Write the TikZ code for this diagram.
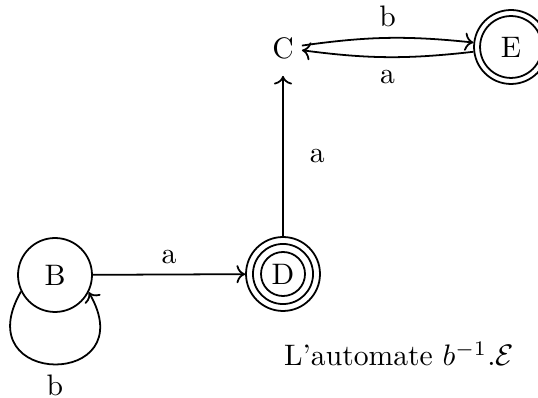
\documentclass[tikz,border=0pt]{standalone}
\usepackage{amsmath,amssymb}
\usetikzlibrary{positioning, calc, arrows.meta}

\begin{document}
\begin{tikzpicture}[
    x=0.01185cm, y=-0.01185cm,
    semithick,
    state/.style={draw, circle, minimum size=0.877cm, inner sep=0pt},
    plainstate/.style={rectangle, minimum width=0.427cm, minimum height=0.64cm, inner sep=0pt}
]
    \useasboundingbox (0,0) rectangle (538,398);

    % --- States ---
    \node[state] (B) at (55,275) {B};
    \node[state] (D) at (283,274) {D};
    \node[plainstate] (C) at (283,48) {C};
    \node[state] (E) at (511,47) {E};

    % extra rings (final states)
    \draw (D.center) circle (0.356cm);
    \draw (D.center) circle (0.261cm);
    \draw (E.center) circle (0.367cm);

    % --- Transitions ---
    \draw[->] (B) -- (D) node[midway, above] {a};
    \draw[->] (D) -- (C) node[midway, right, xshift=0.19cm] {a};
    \draw[->] (C) to[bend left=7] node[above] {b} (E);
    \draw[->] (E) to[bend left=7] node[below, yshift=-0.03cm] {a} (C);
    \draw[->] (B.206) to[out=240, in=300, looseness=4.2] node[below, inner sep=1pt, yshift=-2.3pt] {b} (B.-27);

    % --- Caption ---
    \node (caption) at (399,354) {L'automate $b^{-1}.\mathcal{E}$};

\end{tikzpicture}
\end{document}
